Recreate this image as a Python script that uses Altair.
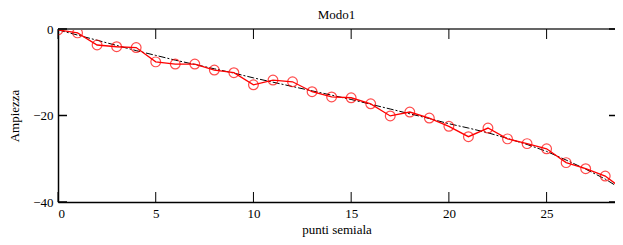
import altair as alt
import pandas as pd

x_pts = list(range(0, 30))
ampiezza = [-0.2, -0.9, -3.7, -4.1, -4.3, -7.6, -8.1, -8.1, -9.5, -10.1,
            -12.9, -11.8, -12.2, -14.5, -15.7, -15.9, -17.3, -20.1, -19.2, -20.6,
            -22.5, -24.9, -22.9, -25.4, -26.5, -27.7, -30.9, -32.3, -34.0, -37.4]
fit = [-0.2, -1.4, -2.6, -3.8, -5.0, -6.1, -7.2, -8.2, -9.2, -10.2,
       -11.3, -12.3, -13.3, -14.3, -15.3, -16.3, -17.4, -18.5, -19.6, -20.7,
       -21.9, -22.9, -24.0, -25.3, -26.7, -28.3, -30.3, -32.4, -34.7, -37.5]
x_ticks = [0, 5, 10, 15, 20, 25]
y_ticks = [0, -20, -40]

W, H = 557, 173
FONT = "Liberation Serif"

df = pd.DataFrame({"x": x_pts, "amp": ampiezza, "fit": fit})
xt = pd.DataFrame({"t": x_ticks})
yt = pd.DataFrame({"t": y_ticks})

xs = alt.Scale(domain=[0, 28.5], nice=False, zero=False)
ys = alt.Scale(domain=[-40, 0], nice=False, zero=False)

xaxis = alt.Axis(values=x_ticks, ticks=False, tickSize=0, grid=False, labelFont=FONT,
                 labelFontSize=13, labelColor="black", labelPadding=5,
                 domainColor="black", domainWidth=1.5, title="punti semiala",
                 titleFont=FONT, titleFontSize=13, titleFontWeight="normal",
                 titleColor="black", titlePadding=3)
yaxis = alt.Axis(values=y_ticks, ticks=False, tickSize=0, grid=False, labelFont=FONT,
                 labelFontSize=13, labelColor="black", labelPadding=5,
                 domainColor="black", domainWidth=1.5, title="Ampiezza",
                 titleFont=FONT, titleFontSize=13, titleFontWeight="normal",
                 titleColor="black", titlePadding=11)

base = alt.Chart(df)

fit_line = base.mark_line(color="black", strokeWidth=1, strokeDash=[7, 2, 2, 2], clip=True).encode(
    x=alt.X("x:Q", scale=xs, axis=xaxis),
    y=alt.Y("fit:Q", scale=ys, axis=yaxis),
)
red_line = base.mark_line(color="#ff0000", strokeWidth=1.3, clip=True).encode(
    x=alt.X("x:Q", scale=xs), y=alt.Y("amp:Q", scale=ys)
)
red_pts = base.mark_point(shape="circle", filled=False, color="#ff0000", size=95,
                          strokeWidth=1.2, clip=True).encode(
    x=alt.X("x:Q", scale=xs), y=alt.Y("amp:Q", scale=ys)
)

top_border = alt.Chart(xt).mark_rule(color="#666666", strokeWidth=1.5).encode(
    x=alt.value(0), x2=alt.value(W), y=alt.value(0))
bottom_ticks = alt.Chart(xt).mark_rule(color="black", strokeWidth=1).encode(
    x=alt.X("t:Q", scale=xs), y=alt.value(H), y2=alt.value(H - 10))
top_ticks = alt.Chart(xt).mark_rule(color="black", strokeWidth=1).encode(
    x=alt.X("t:Q", scale=xs), y=alt.value(0), y2=alt.value(10))
left_ticks = alt.Chart(yt).mark_rule(color="black", strokeWidth=1.5).encode(
    y=alt.Y("t:Q", scale=ys), x=alt.value(0), x2=alt.value(9))
right_ticks = alt.Chart(yt).mark_rule(color="black", strokeWidth=1.5).encode(
    y=alt.Y("t:Q", scale=ys), x=alt.value(W), x2=alt.value(W - 6))

chart = alt.layer(fit_line, red_line, red_pts, top_border, bottom_ticks, top_ticks,
                  left_ticks, right_ticks).properties(
    width=W, height=H,
    title=alt.TitleParams("Modo1", font=FONT, fontSize=13, fontWeight="normal",
                          color="black", anchor="middle", offset=1, frame="group"),
    autosize=alt.AutoSizeParams(type="none"),
    padding={"left": 50, "top": 21, "right": 0, "bottom": 35},
    background="white",
).configure_view(stroke=None)

chart.save("out.html", embed_options={"renderer": "svg", "actions": False})
